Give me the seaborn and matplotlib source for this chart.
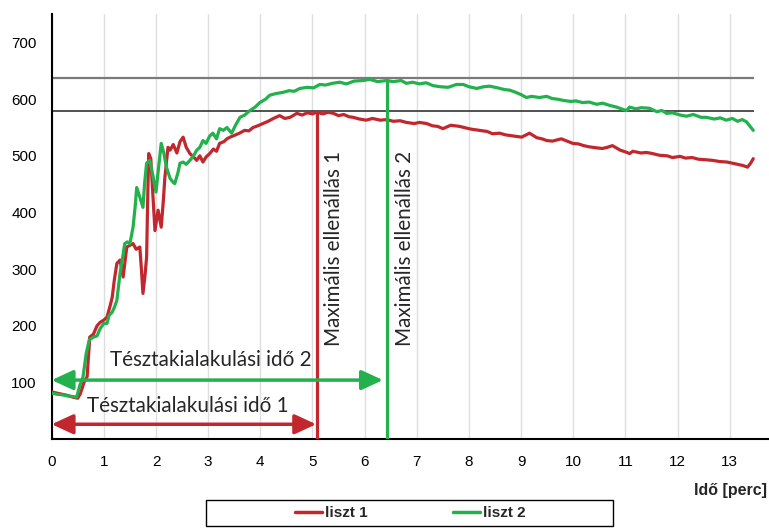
import matplotlib
matplotlib.use("Agg")
import matplotlib.pyplot as plt
import numpy as np
import pandas as pd
import seaborn as sns
from matplotlib.lines import Line2D
from matplotlib.patches import Rectangle
from matplotlib.ticker import MultipleLocator

# ---------------- data ----------------
series_names = ["liszt 1", "liszt 2"]

t1 = [0.0, 0.1, 0.2, 0.3, 0.4, 0.5, 0.55, 0.62, 0.68, 0.73, 0.8, 0.87, 0.93, 1.0, 1.06, 1.12,
      1.16, 1.2, 1.25, 1.31, 1.37, 1.44, 1.5, 1.56, 1.62, 1.69, 1.72, 1.75, 1.79, 1.82, 1.84,
      1.86, 1.9, 1.94, 1.98, 2.04, 2.1, 2.14, 2.17, 2.23, 2.27, 2.33, 2.4, 2.46, 2.52, 2.58,
      2.65, 2.72, 2.78, 2.84, 2.9, 2.96, 3.03, 3.1, 3.16, 3.22, 3.3, 3.36, 3.42, 3.5, 3.6, 3.7,
      3.78, 3.86, 3.95, 4.05, 4.15, 4.25, 4.37, 4.47, 4.57, 4.7, 4.8, 4.9, 5.0, 5.08, 5.2, 5.3,
      5.4, 5.5, 5.6, 5.7, 5.78, 5.9, 6.03, 6.15, 6.3, 6.42, 6.55, 6.68, 6.8, 6.95, 7.05, 7.19,
      7.3, 7.4, 7.5, 7.65, 7.82, 7.95, 8.05, 8.2, 8.35, 8.45, 8.59, 8.7, 8.85, 9.01, 9.16, 9.3,
      9.4, 9.49, 9.6, 9.77, 9.88, 9.99, 10.1, 10.2, 10.3, 10.45, 10.56, 10.65, 10.75, 10.9,
      11.0, 11.08, 11.14, 11.3, 11.4, 11.52, 11.65, 11.8, 11.9, 12.05, 12.15, 12.28, 12.4,
      12.55, 12.67, 12.8, 12.95, 13.05, 13.15, 13.25, 13.34, 13.4, 13.45]
v1 = [83, 81, 79, 77, 74, 72, 80, 100, 110, 180, 185, 200, 206, 210, 215, 235,
      250, 280, 310, 316, 286, 339, 342, 345, 335, 339, 300, 257, 290, 321, 420,
      504, 495, 430, 368, 404, 374, 420, 462, 515, 510, 520, 505, 525, 533, 515,
      504, 498, 492, 500, 489, 498, 504, 512, 508, 522, 525, 530, 533, 536, 540, 545,
      544, 550, 553, 557, 561, 566, 571, 566, 568, 575, 572, 576, 574, 577, 574, 577,
      575, 571, 573, 569, 568, 565, 563, 566, 563, 564, 561, 562, 559, 557, 559, 557,
      553, 552, 548, 554, 552, 549, 547, 545, 543, 539, 540, 537, 535, 533, 540, 532,
      530, 527, 526, 530, 526, 522, 521, 518, 516, 514, 513, 515, 518, 510,
      507, 504, 508, 505, 506, 504, 501, 500, 497, 499, 496, 497, 494,
      493, 492, 490, 489, 487, 485, 483, 480, 487, 495]

t2 = [0.0, 0.1, 0.2, 0.3, 0.4, 0.48, 0.54, 0.6, 0.66, 0.72, 0.8, 0.87, 0.93, 1.0, 1.06, 1.1,
      1.16, 1.2, 1.25, 1.31, 1.36, 1.4, 1.45, 1.5, 1.56, 1.6, 1.63, 1.68, 1.75, 1.78, 1.82,
      1.88, 1.93, 2.0, 2.05, 2.1, 2.15, 2.2, 2.27, 2.33, 2.36, 2.42, 2.46, 2.52, 2.58, 2.65,
      2.72, 2.78, 2.84, 2.9, 2.96, 3.03, 3.09, 3.16, 3.22, 3.29, 3.36, 3.45, 3.53, 3.61, 3.7,
      3.8, 3.9, 3.99, 4.1, 4.18, 4.3, 4.43, 4.55, 4.65, 4.76, 4.9, 5.02, 5.14, 5.25, 5.38,
      5.52, 5.65, 5.8, 5.97, 6.1, 6.25, 6.42, 6.55, 6.7, 6.8, 6.92, 7.05, 7.18, 7.31, 7.45,
      7.6, 7.76, 7.89, 8.0, 8.15, 8.28, 8.4, 8.55, 8.68, 8.78, 8.9, 9.0, 9.1, 9.2, 9.35,
      9.49, 9.6, 9.7, 9.8, 9.95, 10.05, 10.18, 10.3, 10.45, 10.56, 10.7, 10.83, 10.95,
      11.02, 11.08, 11.2, 11.3, 11.46, 11.6, 11.7, 11.79, 11.9, 12.05, 12.17, 12.3, 12.45,
      12.55, 12.7, 12.82, 12.93, 13.05, 13.15, 13.24, 13.32, 13.38, 13.45]
v2 = [81, 79, 78, 76, 75, 74, 95, 109, 150, 175, 180, 182, 195, 204, 204, 218,
      224, 232, 245, 292, 320, 345, 348, 345, 374, 410, 444, 430, 409, 450, 487,
      492, 470, 436, 480, 522, 505, 480, 460, 453, 451, 470, 487, 489, 485, 492,
      500, 510, 515, 527, 522, 535, 540, 530, 548, 545, 550, 540, 555, 568, 572,
      580, 586, 594, 600, 607, 610, 612, 615, 614, 619, 621, 620, 626, 625, 628,
      630, 627, 632, 633, 635, 631, 633, 631, 633, 628, 630, 627, 629, 624, 622,
      621, 626, 626, 622, 619, 622, 623, 620, 617, 616, 612, 608, 603, 605, 603,
      605, 601, 600, 598, 596, 597, 594, 595, 591, 593, 589, 586, 582,
      580, 586, 583, 585, 584, 578, 580, 575, 576, 572, 570, 573, 568,
      568, 565, 567, 563, 566, 561, 564, 560, 553, 545]

ref_levels = [580, 637]                # horizontal reference lines
peak_times = [5.08, 6.42]              # maximal resistance times
peak_values = [577, 635]
dev_arrow_end = [5.07, 6.35]
dev_arrow_y = [26, 104]
max_labels = ["Maximális ellenállás 1", "Maximális ellenállás 2"]
dev_labels = ["Tésztakialakulási idő 1", "Tésztakialakulási idő 2"]
y_tick_values = [100, 200, 300, 400, 500, 600, 700]
xlabel_text = "Idő [perc]"

RED = "#C1272D"
GREEN = "#22B14C"

df = pd.concat([
    pd.DataFrame({"t": t1, "v": v1, "s": series_names[0]}),
    pd.DataFrame({"t": t2, "v": v2, "s": series_names[1]}),
], ignore_index=True)

# ---------------- figure ----------------
sns.set_style("white")
plt.rcParams["font.family"] = ["Liberation Sans", "DejaVu Sans"]

fig = plt.figure(figsize=(7.69, 5.28), dpi=100)
ax = fig.add_axes([0.0672, 0.1686, 0.932, 0.973 - 0.1686])

sns.lineplot(data=df, x="t", y="v", hue="s", palette=[RED, GREEN],
             estimator=None, sort=False, linewidth=2.3, legend=False, ax=ax, zorder=3)

ax.set_xlim(0, 13.74)
ax.set_xlabel("")
ax.set_ylabel("")

ax.xaxis.set_major_locator(MultipleLocator(1))
ax.xaxis.set_minor_locator(MultipleLocator(0.5))
ax.set_yticks(y_tick_values)
ax.set_yticklabels([str(v) for v in y_tick_values])
ax.yaxis.set_minor_locator(MultipleLocator(50))
ax.set_ylim(0, 750)

ax.grid(False)
ax.xaxis.grid(True, which="major", color="#dedede", linewidth=1.0, zorder=0)
ax.set_axisbelow(True)

for side in ["top", "right"]:
    ax.spines[side].set_visible(False)
for side in ["left", "bottom"]:
    ax.spines[side].set_color("black")
    ax.spines[side].set_linewidth(1.5)

ax.tick_params(axis="both", which="major", direction="inout", length=6.5, width=1.2,
               color="black", labelsize=11, labelcolor="black")
ax.tick_params(axis="y", which="major", pad=7.5)
ax.tick_params(axis="x", which="major", pad=8)
ax.tick_params(axis="both", which="minor", direction="out", length=3, width=1.0, color="black")

# horizontal reference lines
ax.hlines(ref_levels[1], 0, 13.46, color="#7a7a7a", linewidth=1.6, zorder=2)
ax.hlines(ref_levels[0], 0, 13.46, color="#222222", linewidth=1.1, zorder=2)

# vertical peak lines
ax.vlines(peak_times[0], 0, peak_values[0], color=RED, linewidth=2.3, zorder=4)
ax.vlines(peak_times[1], 0, peak_values[1], color=GREEN, linewidth=2.3, zorder=4)

# double arrows
for end, yv, col in zip(dev_arrow_end, dev_arrow_y, [RED, GREEN]):
    ax.annotate("", xy=(end, yv), xytext=(0, yv),
                arrowprops=dict(arrowstyle="<|-|>,head_length=1.3,head_width=0.6",
                                color=col, lw=2.5, shrinkA=0, shrinkB=0,
                                mutation_scale=10),
                zorder=5, annotation_clip=False)

txtfont = ["Lato", "DejaVu Sans"]
fs = 14.9
ax.text(2.61, 58, dev_labels[0], ha="center", va="center", fontsize=fs,
        family=txtfont, color="#262626", zorder=6)
ax.text(3.05, 139, dev_labels[1], ha="center", va="center", fontsize=fs,
        family=txtfont, color="#262626", zorder=6)
ax.text(5.41, 337, max_labels[0], ha="center", va="center", rotation=90, fontsize=fs,
        family=txtfont, color="#262626", zorder=6)
ax.text(6.78, 337, max_labels[1], ha="center", va="center", rotation=90, fontsize=fs,
        family=txtfont, color="#262626", zorder=6)

# x label at lower right
fig.text(767 / 769, 1 - 490 / 528, xlabel_text, ha="right", va="center",
         fontsize=11.5, fontweight="bold")

# legend in a wide box
fig.patches.append(Rectangle((206 / 769, 1 - 526 / 528), 407 / 769, 26 / 528,
                             transform=fig.transFigure, fill=False,
                             edgecolor="black", linewidth=1.0))
handles = [Line2D([], [], color=RED, lw=2.5), Line2D([], [], color=GREEN, lw=2.5)]
fig.legend(handles, series_names, loc="center", bbox_to_anchor=(410 / 769, 1 - 513 / 528),
           ncol=2, frameon=False, prop={"weight": "bold", "size": 11},
           columnspacing=5.6, handlelength=1.8, handletextpad=0.15)

fig.savefig("out.png", dpi=100)
